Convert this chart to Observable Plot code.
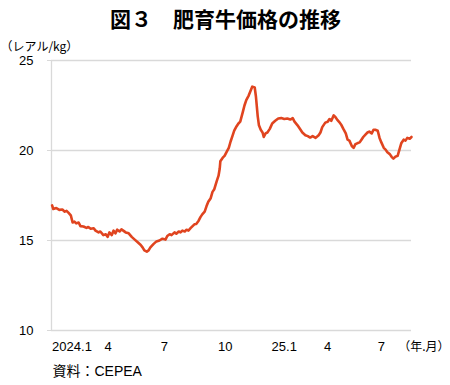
<!DOCTYPE html>
<html>
<head>
<meta charset="utf-8">
<script src="https://cdn.jsdelivr.net/npm/d3@7"></script>
<script src="https://cdn.jsdelivr.net/npm/@observablehq/plot@0.6"></script>
<style>
  html, body { margin: 0; padding: 0; background: #fff; }
</style>
</head>
<body>
<div id="chart"></div>
<script>
const title = "図３　肥育牛価格の推移";
const yUnit = "（レアル/kg）";
const xUnit = "（年.月）";
const source = "資料：CEPEA";

const dates = [
"2024-01-02","2024-01-04","2024-01-09","2024-01-14","2024-01-19","2024-01-23","2024-01-26","2024-01-29",
"2024-02-02","2024-02-05","2024-02-08","2024-02-11","2024-02-15","2024-02-18","2024-02-23","2024-02-28",
"2024-03-02","2024-03-06","2024-03-11","2024-03-14","2024-03-19","2024-03-22","2024-03-27","2024-03-31",
"2024-04-03","2024-04-06","2024-04-10","2024-04-13","2024-04-16","2024-04-19","2024-04-23","2024-04-26","2024-04-29",
"2024-05-03","2024-05-08","2024-05-13","2024-05-18","2024-05-23","2024-05-28","2024-05-31",
"2024-06-03","2024-06-07","2024-06-10","2024-06-13","2024-06-18","2024-06-23","2024-06-28",
"2024-07-03","2024-07-08","2024-07-11","2024-07-15","2024-07-18","2024-07-23","2024-07-26","2024-07-30",
"2024-08-02","2024-08-05","2024-08-09","2024-08-12","2024-08-15","2024-08-19","2024-08-22","2024-08-25","2024-08-28",
"2024-09-01","2024-09-04","2024-09-07","2024-09-11","2024-09-14","2024-09-17","2024-09-21","2024-09-24","2024-09-27",
"2024-10-01","2024-10-04","2024-10-06","2024-10-07","2024-10-11","2024-10-14","2024-10-17","2024-10-21","2024-10-24","2024-10-27","2024-10-30",
"2024-11-03","2024-11-06","2024-11-09","2024-11-13","2024-11-16","2024-11-19","2024-11-23","2024-11-26","2024-11-29",
"2024-12-03","2024-12-05","2024-12-08","2024-12-10","2024-12-13","2024-12-16","2024-12-18","2024-12-21","2024-12-24","2024-12-28",
"2025-01-01","2025-01-06","2025-01-11","2025-01-16","2025-01-21","2025-01-26","2025-01-31",
"2025-02-04","2025-02-07","2025-02-12","2025-02-17","2025-02-20","2025-02-25",
"2025-03-01","2025-03-05","2025-03-09","2025-03-14","2025-03-19","2025-03-22","2025-03-25","2025-03-30",
"2025-04-03","2025-04-06","2025-04-09","2025-04-13","2025-04-16","2025-04-19","2025-04-23","2025-04-26","2025-04-29",
"2025-05-03","2025-05-06","2025-05-09","2025-05-13","2025-05-16","2025-05-19","2025-05-22","2025-05-26","2025-05-29",
"2025-06-01","2025-06-05","2025-06-08","2025-06-11","2025-06-15","2025-06-18","2025-06-21","2025-06-25","2025-06-28",
"2025-07-01","2025-07-05","2025-07-08","2025-07-11","2025-07-15","2025-07-18","2025-07-21","2025-07-24","2025-07-28","2025-07-31",
"2025-08-03","2025-08-07","2025-08-10","2025-08-13","2025-08-17","2025-08-20"
];

const prices = [
16.95,16.75,16.8,16.7,16.72,16.6,16.65,16.55,
16.4,16.0,16.05,15.95,16.0,15.8,15.78,15.7,
15.75,15.65,15.68,15.55,15.45,15.5,15.3,15.35,
15.2,15.45,15.3,15.55,15.4,15.6,15.5,15.62,15.55,
15.45,15.4,15.2,15.05,14.9,14.75,14.62,
14.45,14.38,14.45,14.62,14.8,14.95,15.0,
15.1,15.05,15.25,15.35,15.3,15.45,15.38,15.5,
15.45,15.55,15.5,15.6,15.55,15.7,15.8,15.9,15.92,
16.1,16.3,16.45,16.6,16.9,17.15,17.35,17.7,17.85,
18.3,18.6,19.0,19.4,19.6,19.7,19.9,20.15,20.5,20.8,21.1,
21.35,21.5,21.6,22.1,22.5,22.8,23.05,23.3,23.55,
23.5,23.0,21.9,21.4,21.15,21.0,20.75,20.95,21.0,21.2,
21.5,21.65,21.78,21.8,21.75,21.78,21.72,
21.8,21.6,21.4,21.15,21.0,20.85,
20.8,20.72,20.8,20.7,20.85,21.0,21.3,21.55,
21.6,21.75,21.65,21.95,21.85,21.7,21.55,21.4,21.2,
20.95,20.6,20.55,20.25,20.15,20.35,20.4,20.45,20.6,
20.75,20.9,21.0,21.05,20.95,21.15,21.15,21.1,20.7,
20.45,20.15,20.05,19.9,19.8,19.65,19.55,19.65,19.7,20.05,
20.4,20.6,20.55,20.7,20.65,20.75
];

const xDomain = ["2024-01-01", "2025-08-20"];
const yTicks = [10, 15, 20, 25];
const firstTickDate = "2024-01-02";
const firstTickLabel = "2024.1";
const tickDates = ["2024-04-04","2024-07-06","2024-10-15","2025-01-21","2025-04-03","2025-07-01"];
const tickLabels = ["4","7","10","25.1","4","7"];

const parse = d3.utcParse("%Y-%m-%d");
const data = dates.map((d, i) => ({date: parse(d), price: prices[i]}));
const ticks = tickDates.map((d, i) => ({date: parse(d), label: tickLabels[i]}));

const latin = "'Liberation Sans', Arial, 'Noto Sans CJK JP', sans-serif";
const cjk = "'Noto Sans CJK JP', sans-serif";

const chart = Plot.plot({
  width: 450,
  height: 385,
  marginLeft: 51,
  marginRight: 39,
  marginTop: 60,
  marginBottom: 55,
  style: {fontFamily: latin, fontSize: "13px", color: "#000", background: "#fff"},
  x: {type: "utc", domain: xDomain.map(parse), axis: null},
  y: {domain: [10, 25], axis: null},
  marks: [
    Plot.gridY(yTicks, {stroke: "#d9d9d9", strokeOpacity: 1, strokeWidth: 1.3}),
    Plot.axisY({ticks: yTicks, tickSize: 4, tickPadding: 14, stroke: "#d9d9d9", fill: "#000", fontSize: 13, label: null, tickFormat: d => String(d)}),
    Plot.ruleX([parse(xDomain[0])], {stroke: "#d9d9d9", strokeWidth: 1.3}),
    Plot.lineY(data, {x: "date", y: "price", stroke: "#e0441f", strokeWidth: 2.6, strokeLinejoin: "round"}),
    Plot.text([firstTickLabel], {x: () => parse(firstTickDate), text: d => d, frameAnchor: "bottom", textAnchor: "start", dy: 20, fontSize: 13}),
    Plot.text(ticks, {x: "date", text: "label", frameAnchor: "bottom", dy: 20, fontSize: 13}),
    Plot.text([xUnit], {text: d => d, frameAnchor: "bottom-right", textAnchor: "end", dx: 38, dy: 20, fontSize: 12, fontFamily: cjk}),
    Plot.text([source], {text: d => d, frameAnchor: "bottom-left", textAnchor: "start", dx: 1, dy: 45, fontSize: 14}),
    Plot.text([yUnit], {text: d => d, frameAnchor: "top-left", textAnchor: "start", dx: -51, dy: -18, fontSize: 12, fontFamily: cjk}),
    Plot.text([title], {text: d => d, frameAnchor: "top", dx: -6, dy: -48, fontSize: 21, fontWeight: "bold", fontFamily: cjk})
  ]
});
document.getElementById("chart").appendChild(chart);
</script>
</body>
</html>
